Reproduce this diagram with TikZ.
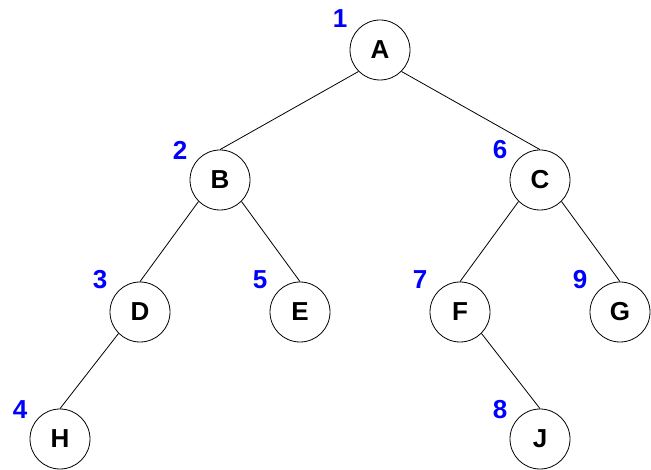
\documentclass[tikz,border=0pt]{standalone}
\usepackage{fontspec}
\setmainfont{Liberation Sans}
\begin{document}
\begin{tikzpicture}[x=1pt,y=-1pt,
  vertex/.style={circle,draw,line width=0.8pt,minimum size=60pt,inner sep=0pt,font=\fontsize{26}{30}\selectfont\bfseries},
  num/.style={text=blue,font=\fontsize{26}{30}\selectfont\bfseries,inner sep=0pt},
  edge/.style={line width=0.8pt}]
\useasboundingbox (0,0) rectangle (651,470);
\node[vertex] (A) at (380,50) {A};
\node[vertex] (B) at (220,180) {B};
\node[vertex] (C) at (540,180) {C};
\node[vertex] (D) at (140,312) {D};
\node[vertex] (E) at (300,312) {E};
\node[vertex] (F) at (460,312) {F};
\node[vertex] (G) at (620,312) {G};
\node[vertex] (H) at (60,439) {H};
\node[vertex] (J) at (540,439) {J};
\node[num] (n1) at (340,19) {1};
\node[num] (n2) at (180,150) {2};
\node[num] (n6) at (500,150) {6};
\node[num] (n3) at (100,280) {3};
\node[num] (n5) at (260,280) {5};
\node[num] (n7) at (420,280) {7};
\node[num] (n9) at (580,280) {9};
\node[num] (n4) at (20,410) {4};
\node[num] (n8) at (500,410) {8};
\draw[edge] (A.south west) -- (B.north);
\draw[edge] (A.south east) -- (C.north);
\draw[edge] (B.south west) -- (D.north);
\draw[edge] (B.south east) -- (E.north);
\draw[edge] (C.south west) -- (F.north);
\draw[edge] (C.south east) -- (G.north);
\draw[edge] (D.south west) -- (H.north);
\draw[edge] (F.south east) -- (J.north);
\end{tikzpicture}
\end{document}
